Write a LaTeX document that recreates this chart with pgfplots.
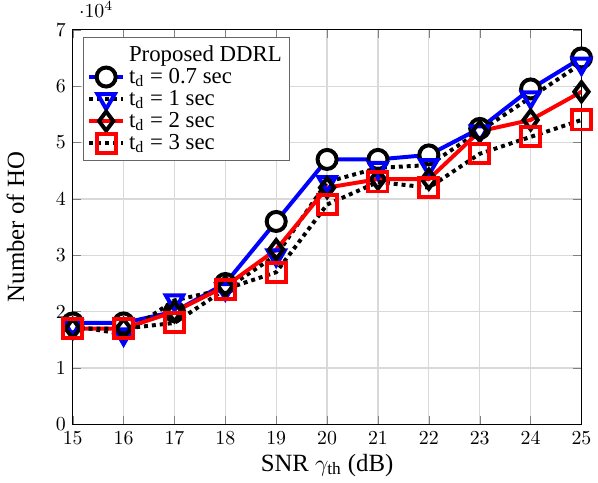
\documentclass[border=0pt]{standalone}
\usepackage{pgfplots}
\pgfplotsset{compat=1.18}
\usepackage{fontspec}
\setmainfont{Liberation Serif}
\begin{document}
\begin{tikzpicture}
\begin{axis}[
  scale only axis,
  width=256.5pt, height=199pt,
  xmin=15, xmax=25, ymin=0, ymax=70000,
  xtick={15,16,...,25},
  ytick={0,10000,...,70000},
  grid=major,
  major grid style={line width=0.6pt, draw=black!15},
  xlabel={SNR $\gamma_{\mathrm{th}}$ (dB)},
  ylabel={Number of HO},
  tick label style={font=\normalsize},
  label style={font=\fontsize{12.5}{14}\selectfont},
  ylabel style={yshift=9pt},
  xlabel style={yshift=2pt},
  legend style={at={(0.02,0.982)}, anchor=north west, draw=black!60, font=\fontsize{11.5}{13}\selectfont, legend cell align=left, row sep=-2pt, inner sep=2pt},
]
\addlegendimage{empty legend}
\addlegendentry{Proposed DDRL}
\addplot[blue, line width=2pt, mark=*, mark size=4.8pt, mark options={solid, draw=black, fill=white, line width=2pt}] coordinates {
(15,18000) (16,18000) (17,20000) (18,25000) (19,36000) (20,47000) (21,47000) (22,47800) (23,52500) (24,59500) (25,65000)};
\addlegendentry{t$_{\mathrm{d}}$ = 0.7 sec}
\addplot[black, line width=2pt, dotted, mark=triangle, mark size=5pt, mark options={solid, rotate=180, draw=blue, line width=2pt}] coordinates {
(15,17500) (16,16000) (17,22000) (18,24000) (19,30000) (20,43000) (21,45500) (22,46000) (23,52000) (24,58000) (25,64000)};
\addlegendentry{t$_{\mathrm{d}}$ = 1 sec}
\addplot[red, line width=2pt, mark=diamond, mark size=4.8pt, mark options={solid, draw=black, line width=2pt}] coordinates {
(15,17000) (16,17000) (17,20000) (18,24500) (19,31000) (20,42000) (21,43500) (22,43500) (23,52000) (24,54000) (25,59000)};
\addlegendentry{t$_{\mathrm{d}}$ = 2 sec}
\addplot[black, line width=2pt, dotted, mark=square, mark size=4.8pt, mark options={solid, draw=red, line width=2pt}] coordinates {
(15,17000) (16,17000) (17,18000) (18,24000) (19,27000) (20,39000) (21,43000) (22,42000) (23,48000) (24,51000) (25,54000)};
\addlegendentry{t$_{\mathrm{d}}$ = 3 sec}
\end{axis}
\path (current axis.north west) ++(0,15pt);
\end{tikzpicture}
\end{document}
